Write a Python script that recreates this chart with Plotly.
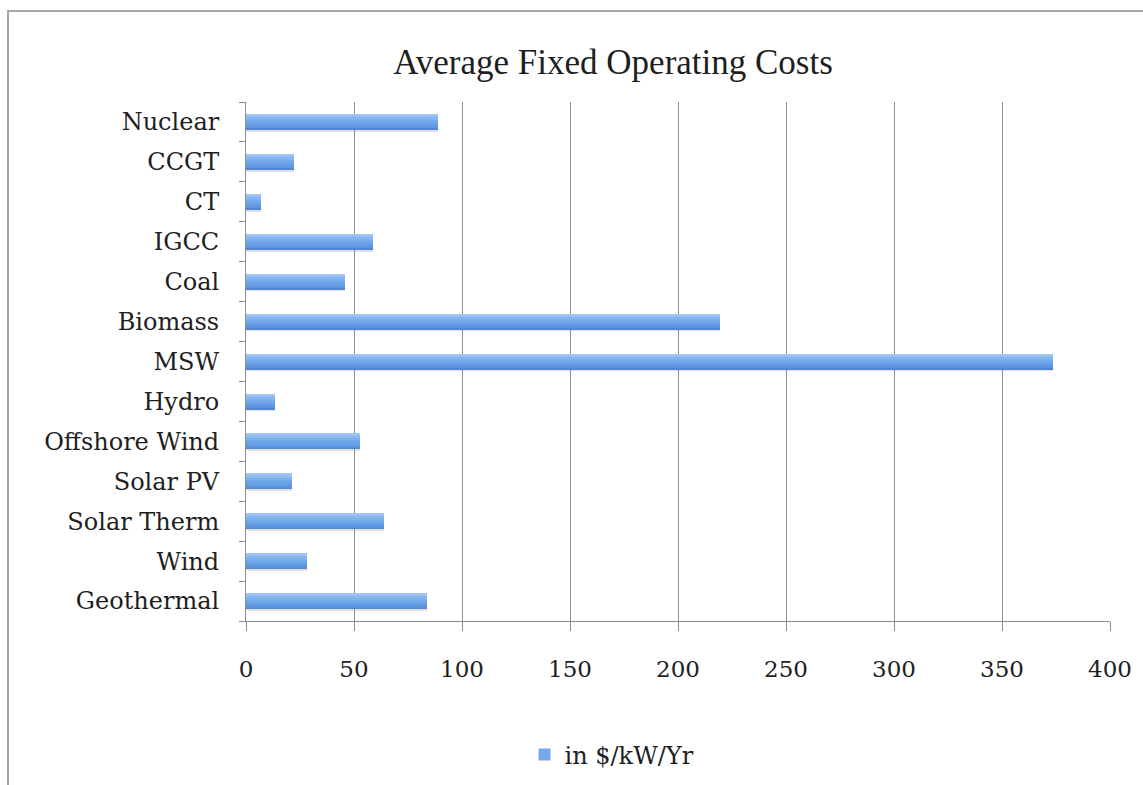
import plotly.graph_objects as go

# Average fixed operating costs by generation technology ($/kW/Yr)
categories = ["Nuclear", "CCGT", "CT", "IGCC", "Coal", "Biomass", "MSW", "Hydro",
              "Offshore Wind", "Solar PV", "Solar Therm", "Wind", "Geothermal"]
costs = [88.8, 22.2, 6.8, 58.6, 46.0, 219.4, 373.5, 13.4, 52.8, 21.1, 63.9, 28.1, 83.9]
x_ticks = [0, 50, 100, 150, 200, 250, 300, 350, 400]
series_name = "in $/kW/Yr"

LABEL_FONT = "DejaVu Serif"
TITLE_FONT = "Liberation Serif"
TEXT = "#1e1e1e"
GRID = "#8e8e8e"

# Horizontal strips (offset from category centre, thickness, colour) that shade
# each bar from a light top edge to a darker bottom edge, plus a soft shadow.
strips = [
    (-0.245, 0.065, "rgba(110,110,110,0.20)"),
    (-0.19, 0.04, "#5187d2"),
    (-0.15, 0.04, "#5a91dc"),
    (-0.11, 0.04, "#619ae3"),
    (-0.07, 0.04, "#67a0e7"),
    (-0.03, 0.04, "#6ca4e9"),
    (0.01, 0.04, "#74aaeb"),
    (0.05, 0.04, "#7db0ed"),
    (0.09, 0.04, "#87b6ee"),
    (0.13, 0.03, "#92bdf0"),
    (0.16, 0.03, "#9fc5f2"),
]

fig = go.Figure()
for off, w, col in strips:
    fig.add_trace(go.Bar(
        x=costs, y=categories, orientation="h",
        width=w, offset=off,
        marker=dict(color=col, line=dict(width=0)),
        showlegend=False, hoverinfo="skip",
        name=series_name,
    ))

# Legend entry
fig.add_trace(go.Bar(
    x=[None], y=[categories[0]], orientation="h",
    marker=dict(color="#76a9ec", line=dict(width=0)),
    name=series_name, showlegend=True,
))

W, H = 1143, 785
L, R, T, B = 246, 33, 102, 164
pw, ph = W - L - R, H - T - B


def px_x(px):
    return (px - L) / pw


def px_y(py):
    return (H - B - py) / ph


fig.update_layout(
    width=W, height=H,
    margin=dict(l=L, r=R, t=T, b=B, pad=0, autoexpand=False),
    paper_bgcolor="white", plot_bgcolor="white",
    barmode="overlay", bargap=0,
    title=dict(text="Average Fixed Operating Costs", xref="container", x=613 / W, xanchor="center",
               yref="container", y=1 - 62 / H, yanchor="middle",
               font=dict(family=TITLE_FONT, size=35, color=TEXT)),
    xaxis=dict(
        range=[0, 400], tickvals=x_ticks, showgrid=True, gridcolor=GRID, gridwidth=1,
        showline=True, linecolor=GRID, linewidth=1, zeroline=False,
        ticks="outside", ticklen=9, tickcolor=GRID, tickwidth=1,
        tickfont=dict(family=LABEL_FONT, size=23, color=TEXT), ticklabelstandoff=18,
        fixedrange=True,
    ),
    yaxis=dict(
        categoryorder="array", categoryarray=categories[::-1],
        showgrid=False, showline=True, linecolor=GRID, linewidth=1,
        ticks="outside", ticklen=6, tickcolor=GRID, tickwidth=1, tickson="boundaries",
        tickfont=dict(family=LABEL_FONT, size=24, color=TEXT), ticklabelstandoff=21,
        range=[-0.5, len(categories) - 0.5], fixedrange=True,
    ),
    legend=dict(orientation="h", x=px_x(612), xanchor="center", y=px_y(755), yanchor="middle",
                font=dict(family=LABEL_FONT, size=24, color=TEXT),
                bgcolor="rgba(0,0,0,0)", itemwidth=30),
    shapes=[dict(type="rect", xref="paper", yref="paper",
                 x0=px_x(8), x1=px_x(1160), y0=px_y(800), y1=px_y(11),
                 line=dict(color="#a6a6a6", width=2), fillcolor="rgba(0,0,0,0)", layer="below")],
)

fig.write_html("out.html")
